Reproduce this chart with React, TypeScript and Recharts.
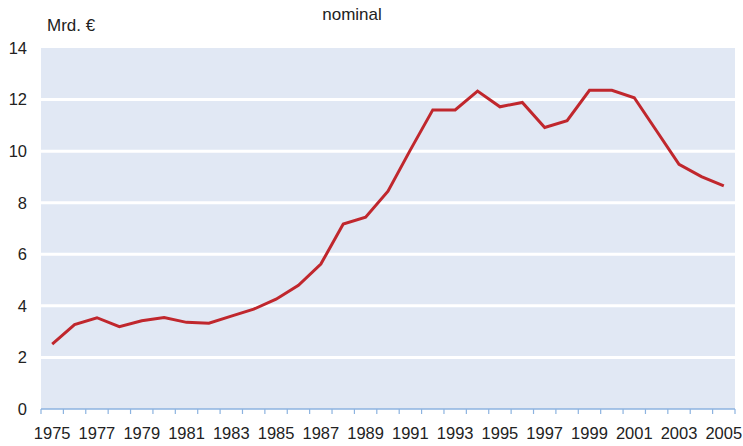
import { LineChart, Line, XAxis, YAxis, CartesianGrid } from 'recharts';

const years = [
  1975, 1976, 1977, 1978, 1979, 1980, 1981, 1982, 1983, 1984, 1985,
  1986, 1987, 1988, 1989, 1990, 1991, 1992, 1993, 1994, 1995,
  1996, 1997, 1998, 1999, 2000, 2001, 2002, 2003, 2004, 2005,
];
const nominal = [
  2.52, 3.27, 3.54, 3.19, 3.42, 3.55, 3.36, 3.33, 3.6, 3.87, 4.26,
  4.8, 5.62, 7.17, 7.44, 8.45, 10.05, 11.6, 11.6, 12.33, 11.72,
  11.89, 10.92, 11.18, 12.36, 12.36, 12.07, 10.78, 9.49, 9.01, 8.65,
];
const yTicks = [0, 2, 4, 6, 8, 10, 12, 14];

// year boundaries (tick marks) plus odd years (labels)
const xTicks = [
  ...years.map(y => y - 0.5),
  years[years.length - 1] + 0.5,
  ...years.filter(y => y % 2 === 1),
];

const rows = years.map((year, i) => ({ year, value: nominal[i] }));

const AXIS_BLUE = '#8cb3e0';
const FONT = 'Liberation Sans, Arial, sans-serif';

function YearTick({ x, y, payload }: any) {
  const v = payload.value as number;
  if (!Number.isInteger(v)) {
    return <line x1={x} x2={x} y1={y} y2={y + 5} stroke={AXIS_BLUE} strokeWidth={1.2} />;
  }
  return (
    <text x={x} y={y + 30} textAnchor="middle" fontSize={16.5} fill="#222" fontFamily={FONT}>
      {v}
    </text>
  );
}

export default function App() {
  return (
    <div style={{ position: 'absolute', left: 0, top: 0, width: 743, height: 446, background: '#fff' }}>
      <div style={{ position: 'absolute', left: 0, width: 704, top: 5, textAlign: 'center', fontFamily: FONT, fontSize: 17, color: '#222' }}>
        nominal
      </div>
      <div style={{ position: 'absolute', left: 47, top: 16, fontFamily: FONT, fontSize: 17, color: '#222' }}>
        Mrd. €
      </div>
      <LineChart width={743} height={446} data={rows} margin={{ top: 48, right: 8, bottom: 0, left: 0 }}>
        <CartesianGrid vertical={false} stroke="#fff" strokeWidth={3} fill="#e1e8f4" horizontalValues={yTicks.slice(1, -1)} />
        <XAxis
          dataKey="year"
          type="number"
          domain={[1974.5, 2005.5]}
          ticks={xTicks}
          interval={0}
          tickLine={false}
          tickSize={0}
          tickMargin={0}
          stroke={AXIS_BLUE}
          strokeWidth={1.5}
          height={37}
          tick={<YearTick />}
        />
        <YAxis
          domain={[0, 14]}
          ticks={yTicks}
          width={41}
          axisLine={false}
          tickLine={false}
          tickSize={0}
          tickMargin={14}
          tick={{ fontSize: 16.5, fill: '#222', fontFamily: FONT }}
        />
        <Line
          type="linear"
          dataKey="value"
          stroke="#c0272d"
          strokeWidth={3}
          dot={false}
          isAnimationActive={false}
        />
      </LineChart>
    </div>
  );
}
